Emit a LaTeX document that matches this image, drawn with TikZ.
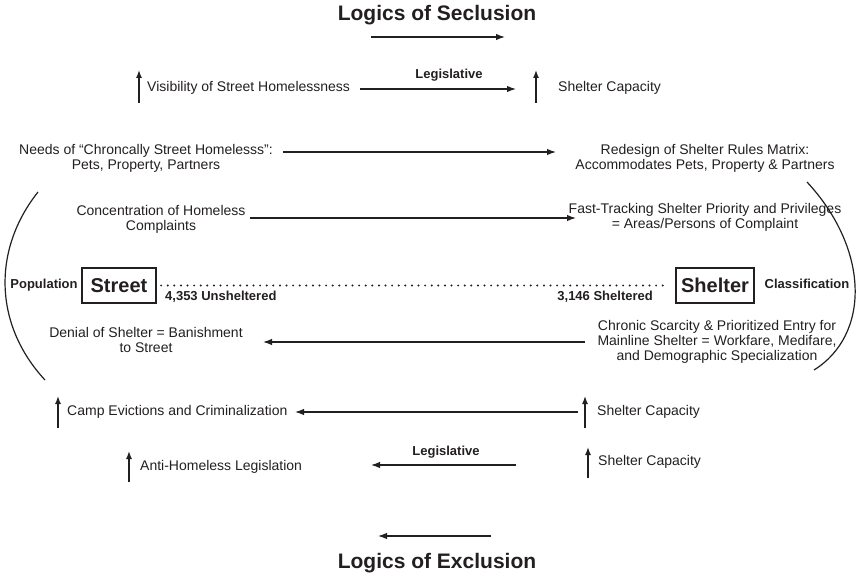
\documentclass[tikz,border=0pt]{standalone}
\usepackage{fontspec}
\setmainfont{Liberation Sans}
\usetikzlibrary{arrows.meta}
\definecolor{ink}{RGB}{35,31,32}
\begin{document}
\begin{tikzpicture}[x=1pt,y=-1pt,
  txt/.style={font=\fontsize{14}{15}\selectfont, text=ink, inner sep=0pt, align=center},
  lbl/.style={font=\bfseries\fontsize{13}{15}\selectfont, text=ink, inner sep=0pt},
  ttl/.style={font=\bfseries\fontsize{21}{24}\selectfont, text=ink, inner sep=0pt},
  boxn/.style={draw=ink, line width=2.2pt, font=\bfseries\fontsize{20}{22}\selectfont, text=ink, minimum height=35pt, inner xsep=0pt},
  arr/.style={draw=ink, line width=1.3pt, -{Latex[length=9pt,width=6.5pt]}},
  uparr/.style={draw=ink, line width=1.4pt, -{Latex[length=8pt,width=6pt]}},
  arcl/.style={draw=ink, line width=1.2pt},
  dotl/.style={draw=ink, line width=2.2pt, line cap=round, dash pattern=on 0pt off 6.6pt}]
\useasboundingbox (0,0) rectangle (857,577);

% top title
\node[ttl] (t1) at (437,15) {Logics of Seclusion};
\coordinate (a1s) at (371,37); \coordinate (a1e) at (505,37);
\draw[arr] (a1s) -- (a1e);

% visibility row
\coordinate (u1b) at (139,103); \coordinate (u1t) at (139,70);
\draw[uparr] (u1b) -- (u1t);
\node[txt, anchor=west] (vis) at (147,88) {Visibility of Street Homelessness};
\node[lbl] (leg1) at (449,75) {Legislative};
\coordinate (v1s) at (360,89); \coordinate (v1e) at (516,89);
\draw[arr] (v1s) -- (v1e);
\coordinate (u2b) at (536,103); \coordinate (u2t) at (536,70);
\draw[uparr] (u2b) -- (u2t);
\node[txt, anchor=west] (cap1) at (558,88) {Shelter Capacity};

% needs row
\node[txt] (needs) at (146,158) {Needs of “Chroncally Street Homelesss”:\\Pets, Property, Partners};
\node[txt] (redes) at (705,158) {Redesign of Shelter Rules Matrix:\\Accommodates Pets, Property \& Partners};
\coordinate (n1s) at (283,152); \coordinate (n1e) at (556,152);
\draw[arr] (n1s) -- (n1e);

% concentration row
\node[txt] (conc) at (161,219) {Concentration of Homeless\\Complaints};
\node[txt] (fast) at (705,217) {Fast-Tracking Shelter Priority and Privileges\\= Areas/Persons of Complaint};
\coordinate (c1s) at (250,218); \coordinate (c1e) at (576,218);
\draw[arr] (c1s) -- (c1e);

% middle
\node[lbl] (pop) at (44,285) {Population};
\node[boxn, minimum width=74pt] (street) at (119,285.5) {Street};
\node[boxn, minimum width=78pt] (shelter) at (715,285.5) {Shelter};
\node[lbl] (class) at (807,284) {Classification};
\draw[dotl] ([xshift=4pt]street.east) -- ([xshift=-12pt]shelter.west);
\node[lbl, anchor=west] (uns) at (165,297) {4,353 Unsheltered};
\node[lbl, anchor=east] (she) at (653,297) {3,146 Sheltered};

% denial row
\node[txt] (deny) at (146,340) {Denial of Shelter = Banishment\\to Street};
\node[txt] (chron) at (717,342) {Chronic Scarcity \& Prioritized Entry for\\Mainline Shelter = Workfare, Medifare,\\and Demographic Specialization};
\coordinate (d1s) at (585,342); \coordinate (d1e) at (263,342);
\draw[arr] (d1s) -- (d1e);

% arcs
\coordinate (la1) at (38,192); \coordinate (la2) at (45,380);
\draw[arcl] (la1) .. controls (-8,250) and (-6,325) .. (la2);
\coordinate (ra1) at (807,182); \coordinate (ra2) at (814,370);
\draw[arcl] (ra1) .. controls (870,250) and (870,335) .. (ra2);

% camp row
\coordinate (u3b) at (58,428); \coordinate (u3t) at (58,396);
\draw[uparr] (u3b) -- (u3t);
\node[txt, anchor=west] (camp) at (67,412) {Camp Evictions and Criminalization};
\coordinate (e1s) at (578,412); \coordinate (e1e) at (295,412);
\draw[arr] (e1s) -- (e1e);
\coordinate (u4b) at (585,428); \coordinate (u4t) at (585,396);
\draw[uparr] (u4b) -- (u4t);
\node[txt, anchor=west] (cap2) at (597,412) {Shelter Capacity};

% anti row
\coordinate (u5b) at (129,482); \coordinate (u5t) at (129,451);
\draw[uparr] (u5b) -- (u5t);
\node[txt, anchor=west] (anti) at (140,467) {Anti-Homeless Legislation};
\node[lbl] (leg2) at (446,452) {Legislative};
\coordinate (l2s) at (516,465); \coordinate (l2e) at (371,465);
\draw[arr] (l2s) -- (l2e);
\coordinate (u6b) at (588,478); \coordinate (u6t) at (588,447);
\draw[uparr] (u6b) -- (u6t);
\node[txt, anchor=west] (cap3) at (598,462) {Shelter Capacity};

% bottom title
\coordinate (b1s) at (491,536); \coordinate (b1e) at (378,536);
\draw[arr] (b1s) -- (b1e);
\node[ttl] (t2) at (437,563) {Logics of Exclusion};
\end{tikzpicture}
\end{document}
